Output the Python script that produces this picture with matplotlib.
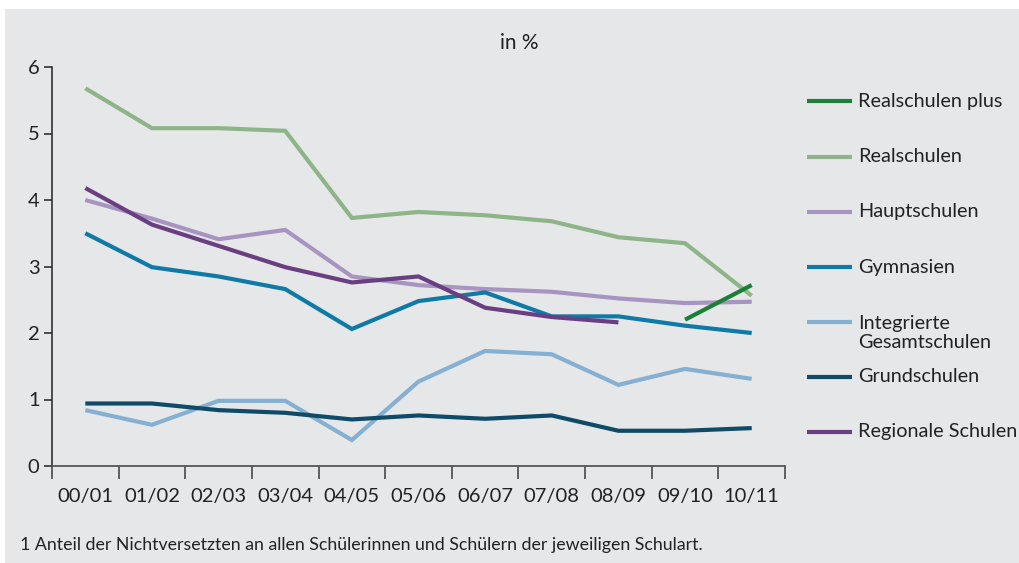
import matplotlib
matplotlib.use("Agg")
import matplotlib.pyplot as plt
from matplotlib.patches import Rectangle
import numpy as np

plt.rcParams['font.family'] = ['Lato', 'DejaVu Sans']

years = ["00/01", "01/02", "02/03", "03/04", "04/05", "05/06",
         "06/07", "07/08", "08/09", "09/10", "10/11"]

realschulen_plus = [None, None, None, None, None, None, None, None, None, 2.20, 2.72]
realschulen = [5.68, 5.08, 5.08, 5.04, 3.73, 3.82, 3.77, 3.68, 3.44, 3.35, 2.56]
hauptschulen = [4.00, 3.72, 3.41, 3.55, 2.85, 2.72, 2.66, 2.62, 2.52, 2.45, 2.47]
gymnasien = [3.50, 2.99, 2.85, 2.66, 2.06, 2.48, 2.61, 2.25, 2.25, 2.11, 2.00]
gesamtschulen = [0.84, 0.62, 0.98, 0.98, 0.39, 1.27, 1.73, 1.68, 1.22, 1.46, 1.31]
grundschulen = [0.94, 0.94, 0.84, 0.80, 0.70, 0.76, 0.71, 0.76, 0.53, 0.53, 0.57]
regionale = [4.18, 3.63, 3.31, 2.99, 2.76, 2.85, 2.38, 2.24, 2.16, None, None]

series = [
    ("Realschulen plus", realschulen_plus, "#1a8038"),
    ("Realschulen", realschulen, "#8db587"),
    ("Hauptschulen", hauptschulen, "#a894c0"),
    ("Gymnasien", gymnasien, "#0f7aa6"),
    ("Integrierte\nGesamtschulen", gesamtschulen, "#86b0d1"),
    ("Grundschulen", grundschulen, "#0f4a66"),
    ("Regionale Schulen", regionale, "#6a3f82"),
]
draw_order = [1, 2, 4, 5, 3, 6, 0]

W, H = 1019, 563
fig = plt.figure(figsize=(W / 100, H / 100), dpi=100)
fig.patch.set_facecolor("white")
fig.add_artist(Rectangle((5 / W, 0), 1 - 5 / W, 1 - 9 / H,
                         transform=fig.transFigure, facecolor="#e6e7e9",
                         edgecolor="none", zorder=0))

left, right, bottom, top = 52, 785, 466, 67
ax = fig.add_axes([left / W, 1 - bottom / H, (right - left) / W, (bottom - top) / H])
ax.set_facecolor("none")

x = np.arange(len(years))
for i in draw_order:
    name, vals, col = series[i]
    y = np.array([np.nan if v is None else v for v in vals], dtype=float)
    ax.plot(x, y, color=col, lw=3.0, solid_capstyle="butt", solid_joinstyle="miter", zorder=3)

ax.set_xlim(-0.5, len(years) - 0.5)
ax.set_ylim(0, 6)
ax.set_yticks(range(0, 7))
ax.set_yticklabels([str(v) for v in range(0, 7)], fontsize=14.5, color="#222222")
ax.set_xticks(np.arange(-0.5, len(years), 1.0))
ax.set_xticklabels([])
ax.set_xticks(x, minor=True)
ax.set_xticklabels(years, minor=True, fontsize=14.5, color="#222222")
ax.tick_params(axis="x", which="major", length=9, width=1.3, color="#555555", direction="out")
ax.tick_params(axis="x", which="minor", length=0, pad=16)
ax.tick_params(axis="y", length=6, width=1.1, color="#222222", pad=3)
for s in ["top", "right"]:
    ax.spines[s].set_visible(False)
ax.spines["left"].set_color("#222222")
ax.spines["left"].set_linewidth(1.1)
ax.spines["bottom"].set_color("#555555")
ax.spines["bottom"].set_linewidth(1.3)

fig.text(519 / W, 1 - 43 / H, "in %", ha="center", va="center", fontsize=15, color="#222222")

# legend drawn manually on the right
leg_y = [101, 157, 212, 267, 333, 377, 432]
for (name, vals, col), yy in zip(series, leg_y):
    fy = 1 - yy / H
    if "\n" in name:
        ly = 1 - 322 / H
    else:
        ly = fy
    fig.add_artist(plt.Line2D([807 / W, 852 / W], [ly, ly], transform=fig.transFigure,
                              color=col, lw=3.0, solid_capstyle="butt"))
    fig.text(858 / W, fy, name, ha="left", va="center", fontsize=14.3,
             color="#222222", linespacing=1.15)

fig.text(20 / W, 1 - 545 / H,
         "1 Anteil der Nichtversetzten an allen Schülerinnen und Schülern der jeweiligen Schulart.",
         ha="left", va="center", fontsize=12.8, color="#222222")

fig.savefig("out.png", dpi=100, facecolor=fig.get_facecolor())
